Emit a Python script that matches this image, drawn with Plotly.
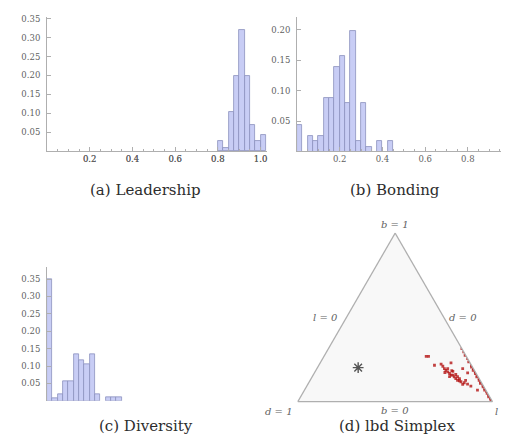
import plotly.graph_objects as go

W, H = 509, 444

# ---------------- data ----------------
bin_width = 0.025

leadership_edges = [0.800, 0.825, 0.850, 0.875, 0.900, 0.925, 0.950, 0.975, 1.000]
leadership_freq = [0.026, 0.009, 0.103, 0.200, 0.320, 0.200, 0.068, 0.026, 0.043]

bonding_edges = [0.000, 0.050, 0.075, 0.100, 0.125, 0.150, 0.175, 0.200, 0.225,
                 0.250, 0.275, 0.300, 0.325, 0.375, 0.425]
bonding_freq = [0.045, 0.027, 0.018, 0.027, 0.088, 0.088, 0.139, 0.158, 0.080,
                0.198, 0.018, 0.080, 0.009, 0.018, 0.018]

diversity_edges = [0.000, 0.025, 0.050, 0.075, 0.100, 0.125, 0.150, 0.175, 0.200,
                   0.225, 0.275, 0.300, 0.325]
diversity_freq = [0.350, 0.008, 0.018, 0.057, 0.057, 0.133, 0.117, 0.105, 0.133,
                  0.018, 0.009, 0.009, 0.009]

# simplex points (normalised l, b, d)
simplex_b = [0.314, 0.295, 0.275, 0.255, 0.236, 0.216, 0.205, 0.196, 0.186, 0.177,
             0.167, 0.157, 0.147, 0.137, 0.127, 0.118, 0.108, 0.098, 0.088, 0.078,
             0.068, 0.059, 0.049, 0.039, 0.029, 0.020, 0.010, 0.000,
             0.269, 0.269, 0.216, 0.222, 0.210, 0.230, 0.196, 0.171,
             0.196, 0.186, 0.177, 0.167, 0.157, 0.157, 0.147, 0.137, 0.127, 0.124,
             0.118, 0.112, 0.104, 0.092, 0.068,
             0.196, 0.179, 0.161, 0.173, 0.149, 0.137, 0.102, 0.126, 0.184, 0.149]
simplex_d = [0.000, 0.000, 0.003, 0.000, 0.004, 0.000, 0.005, 0.000, 0.006, 0.000,
             0.004, 0.000, 0.007, 0.000, 0.005, 0.000, 0.008, 0.000, 0.004, 0.000,
             0.006, 0.000, 0.003, 0.000, 0.005, 0.000, 0.003, 0.000,
             0.206, 0.194, 0.190, 0.153, 0.150, 0.098, 0.055, 0.042,
             0.149, 0.146, 0.141, 0.137, 0.134, 0.125, 0.123, 0.120, 0.116, 0.108,
             0.103, 0.089, 0.076, 0.065, 0.043,
             0.132, 0.114, 0.108, 0.158, 0.146, 0.101, 0.102, 0.075, 0.117, 0.105]
simplex_l = [0.686, 0.705, 0.722, 0.745, 0.760, 0.784, 0.790, 0.804, 0.808, 0.823,
             0.829, 0.843, 0.846, 0.863, 0.868, 0.882, 0.884, 0.902, 0.908, 0.922,
             0.926, 0.941, 0.948, 0.961, 0.966, 0.980, 0.987, 1.000,
             0.525, 0.537, 0.594, 0.625, 0.640, 0.672, 0.749, 0.787,
             0.655, 0.668, 0.682, 0.696, 0.709, 0.718, 0.730, 0.743, 0.757, 0.768,
             0.779, 0.799, 0.820, 0.843, 0.889,
             0.672, 0.707, 0.731, 0.669, 0.705, 0.762, 0.796, 0.799, 0.699, 0.746]

star_l = [0.209]
star_b = [0.202]
star_d = [0.589]

captions = ["(a) Leadership", "(b) Bonding", "(c) Diversity", "(d) lbd Simplex"]
y_tickvals_a = [0.05, 0.10, 0.15, 0.20, 0.25, 0.30, 0.35]
y_tickvals_b = [0.05, 0.10, 0.15, 0.20]
x_tickvals = [0.2, 0.4, 0.6, 0.8, 1.0]
x_ticktext = ["0.2", "0.4", "0.6", "0.8", "1.0"]

# ---------------- styling ----------------
BAR_FILL = "rgb(200,205,245)"
BAR_EDGE = "rgb(140,145,190)"
AX_COL = "rgb(175,175,175)"
TICK_FONT = dict(family="DejaVu Serif", size=8.5, color="rgb(95,95,95)")
CAP_FONT = dict(family="DejaVu Serif", size=15, color="rgb(45,45,45)")
LAB_FONT = dict(family="DejaVu Serif", size=10, color="rgb(95,95,95)")


def px_x(v):
    return v / W


def px_y(v):
    return 1 - v / H


fig = go.Figure()

for i, (edges, freq) in enumerate([(leadership_edges, leadership_freq),
                                   (bonding_edges, bonding_freq),
                                   (diversity_edges, diversity_freq)]):
    suffix = "" if i == 0 else str(i + 1)
    fig.add_trace(go.Bar(
        x=edges, y=freq, width=bin_width, offset=0,
        marker=dict(color=BAR_FILL, line=dict(color=BAR_EDGE, width=0.8)),
        xaxis="x" + suffix, yaxis="y" + suffix, showlegend=False,
        hoverinfo="skip"))

fig.add_trace(go.Scatterternary(
    a=simplex_b, b=simplex_d, c=simplex_l, mode="markers",
    marker=dict(symbol="square", size=2.8, color="rgba(180,20,20,0.8)",
                line=dict(width=0)),
    showlegend=False, hoverinfo="skip"))
fig.add_trace(go.Scatterternary(
    a=star_b, b=star_d, c=star_l, mode="markers",
    marker=dict(symbol="asterisk-open", size=9, color="rgb(85,85,85)",
                line=dict(color="rgb(85,85,85)", width=1.4)),
    showlegend=False, hoverinfo="skip"))


def xaxis(dom, rng):
    return dict(domain=dom, range=rng, showline=True, linecolor=AX_COL, linewidth=1,
                showgrid=False, zeroline=False, tickmode="array",
                tickvals=x_tickvals, ticktext=x_ticktext, ticklabeloverflow="allow",
                ticks="inside", ticklen=4, tickcolor=AX_COL, tickfont=TICK_FONT,
                minor=dict(dtick=0.05, tick0=0, ticks="inside", ticklen=2,
                           tickcolor=AX_COL),
                fixedrange=True)


def yaxis(dom, rng, tv, anchor):
    return dict(domain=dom, range=rng, anchor=anchor, showline=True, linecolor=AX_COL,
                linewidth=1, showgrid=False, zeroline=False, tickmode="array",
                tickvals=tv, ticktext=["%.2f" % v for v in tv],
                ticks="inside", ticklen=4, tickcolor=AX_COL, tickfont=TICK_FONT,
                ticklabelstandoff=4, ticklabeloverflow="allow", fixedrange=True)


def yminor(over, rng, anchor):
    return dict(overlaying=over, anchor=anchor, range=rng, showline=False,
                showgrid=False, zeroline=False, tickmode="linear", tick0=0,
                dtick=0.01, ticks="inside", ticklen=2, tickcolor=AX_COL,
                showticklabels=False, fixedrange=True)


ya_rng, yb_rng, yc_rng = [0, 0.355], [0, 0.221], [0, 0.384]

fig.update_layout(
    width=W, height=H, margin=dict(l=0, r=0, t=0, b=0),
    paper_bgcolor="white", plot_bgcolor="white", bargap=0,
    xaxis=xaxis([px_x(39), px_x(259)], [0, 1.03]),
    yaxis=yaxis([px_y(141), px_y(6)], ya_rng, y_tickvals_a, "x"),
    xaxis2=xaxis([px_x(289), px_x(509)], [0, 1.03]),
    yaxis2=yaxis([px_y(142), px_y(6)], yb_rng, y_tickvals_b, "x2"),
    xaxis3=xaxis([px_x(39), px_x(259)], [0, 1.03]),
    yaxis3=yaxis([px_y(392.5), px_y(258)], yc_rng, y_tickvals_a, "x3"),
    yaxis4=yminor("y", ya_rng, "x"),
    yaxis5=yminor("y2", yb_rng, "x2"),
    yaxis6=yminor("y3", yc_rng, "x3"),
    ternary=dict(
        domain=dict(x=[px_x(289.3), px_x(485)], y=[px_y(393.3), px_y(223.6)]),
        bgcolor="rgb(248,248,248)", sum=1,
        aaxis=dict(showticklabels=False, showgrid=False, ticks="", linecolor=AX_COL,
                   linewidth=1.2, title=dict(text="")),
        baxis=dict(showticklabels=False, showgrid=False, ticks="", linecolor=AX_COL,
                   linewidth=1.2, title=dict(text="")),
        caxis=dict(showticklabels=False, showgrid=False, ticks="", linecolor=AX_COL,
                   linewidth=1.2, title=dict(text="")),
    ),
)

cap_pos = [(137, 180), (387, 180), (138, 418), (389, 418)]
for text, (cx, cy) in zip(captions, cap_pos):
    fig.add_annotation(x=px_x(cx), y=px_y(cy), xref="paper", yref="paper",
                       text=text, showarrow=False, xanchor="center", yanchor="middle",
                       font=CAP_FONT)

simplex_labels = [("b = 1", 387, 215, "center"), ("l = 0", 317, 309, "center"),
                  ("d = 0", 455, 309, "center"), ("d = 1", 271, 403, "center"),
                  ("b = 0", 387, 402, "center"), ("l = 1", 485, 403, "left")]
for text, cx, cy, anc in simplex_labels:
    fig.add_annotation(x=px_x(cx), y=px_y(cy), xref="paper", yref="paper",
                       text="<i>" + text + "</i>", showarrow=False,
                       xanchor=anc, yanchor="middle", font=LAB_FONT)

fig.write_html("out.html")
